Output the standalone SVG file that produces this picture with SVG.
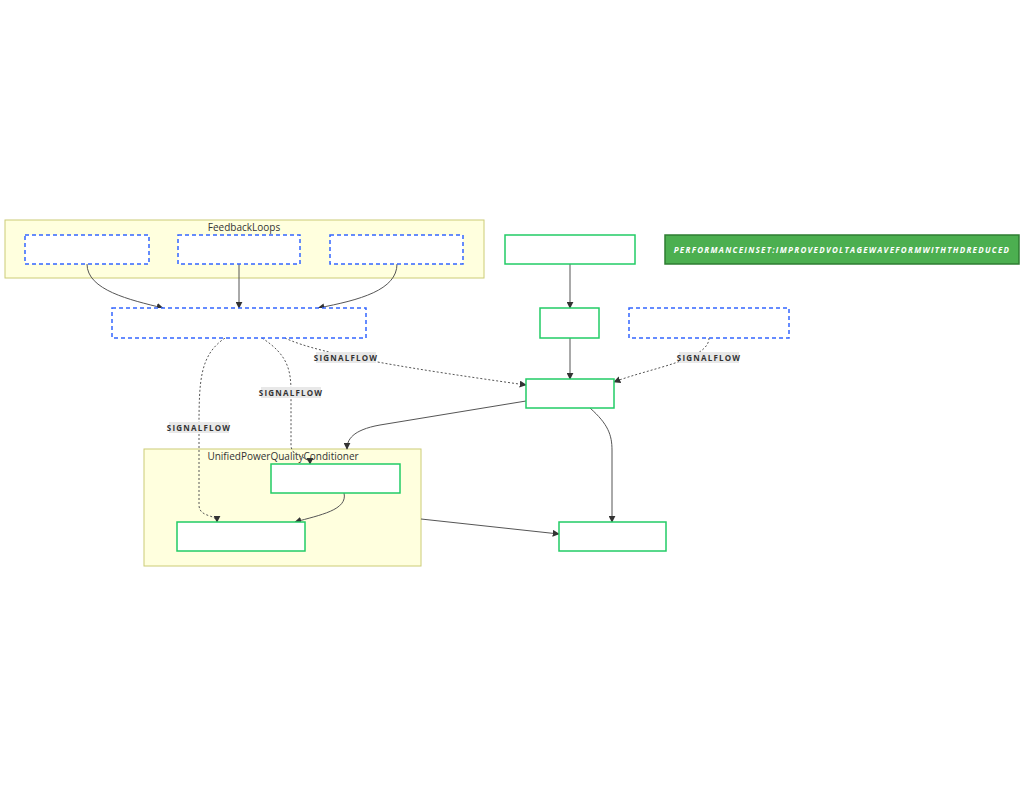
<svg xmlns="http://www.w3.org/2000/svg" width="1024" height="787" viewBox="0 0 1024 787">
<style>
.cl{fill:#ffffde;stroke:#cccc77;stroke-width:1}
.ct{font-family:"Open Sans","Liberation Sans",sans-serif;font-size:10px;fill:#333;text-anchor:middle}
.dn{fill:#fff;stroke:#3366ff;stroke-width:1.5;stroke-dasharray:4 3}
.gn{fill:#fff;stroke:#22cc66;stroke-width:1.5}
.nt{font-family:"Open Sans","Liberation Sans",sans-serif;font-size:9px;fill:#fff;text-anchor:middle;letter-spacing:1.5px}
.e{fill:none;stroke:#555;stroke-width:1}
.d{fill:none;stroke:#555;stroke-width:1;stroke-dasharray:2 2}
.lb{fill:#e8e8e8}
.lt{font-family:"Open Sans","Liberation Sans",sans-serif;font-size:8px;font-weight:bold;fill:#333;text-anchor:middle;letter-spacing:1.2px}
</style>
<defs><marker id="a" viewBox="0 0 10 10" refX="9" refY="5" markerWidth="7" markerHeight="7" orient="auto"><path d="M0,0L10,5L0,10z" fill="#333"/></marker></defs>
<rect width="1024" height="787" fill="#fff"/>
<g id="FeedbackLoops"><rect class="cl" x="5" y="220" width="479" height="58"/><text class="ct" x="244" y="231">FeedbackLoops</text></g>
<g id="UPQC"><rect class="cl" x="144" y="449" width="277" height="117"/><text class="ct" x="283" y="460">UnifiedPowerQualityConditioner</text></g>
<g id="edges">
<path class="e" d="M87,264 C87,290 130,300 163,308" marker-end="url(#a)"/>
<path class="e" d="M239,264 L239,308" marker-end="url(#a)"/>
<path class="e" d="M397,264 C397,290 360,300 318,308" marker-end="url(#a)"/>
<path class="e" d="M570,264 L570,308" marker-end="url(#a)"/>
<path class="e" d="M570,338 L570,379" marker-end="url(#a)"/>
<path class="d" d="M285,338 C320,355 420,370 526,385" marker-end="url(#a)"/>
<path class="d" d="M709,338 C709,360 650,368 614,382" marker-end="url(#a)"/>
<path class="d" d="M262,338 C288,355 291,370 291,393 L291,445 C291,458 310,456 310,464" marker-end="url(#a)"/>
<path class="d" d="M225,338 C200,355 199,380 199,428 L199,505 C199,518 217,514 217,522" marker-end="url(#a)"/>
<path class="e" d="M526,401 L380,425 C352,430 347,440 347,449" marker-end="url(#a)"/>
<path class="e" d="M590,408 C608,424 612,435 612,450 L612,522" marker-end="url(#a)"/>
<path class="e" d="M344,493 C348,510 320,515 295,522" marker-end="url(#a)"/>
<path class="e" d="M421,519 L559,534" marker-end="url(#a)"/>
<rect class="lb" x="316" y="352" width="60" height="11"/><text class="lt" x="346" y="361">SIGNALFLOW</text>
<rect class="lb" x="679" y="352" width="60" height="11"/><text class="lt" x="709" y="361">SIGNALFLOW</text>
<rect class="lb" x="261" y="387" width="60" height="11"/><text class="lt" x="291" y="396">SIGNALFLOW</text>
<rect class="lb" x="169" y="422" width="60" height="11"/><text class="lt" x="199" y="431">SIGNALFLOW</text>
</g>
<g id="CurrentFeedback"><rect class="dn" x="25" y="235" width="124" height="29"/><text class="nt" x="87" y="253">CURRENTFEEDBACK</text></g>
<g id="VoltageFeedback"><rect class="dn" x="178" y="235" width="122" height="29"/><text class="nt" x="239" y="253">VOLTAGEFEEDBACK</text></g>
<g id="HarmonicDetection"><rect class="dn" x="330" y="235" width="133" height="29"/><text class="nt" x="397" y="253">HARMONICDETECTION</text></g>
<g id="Controller"><rect class="dn" x="112" y="308" width="254" height="30"/></g>
<g id="Source"><rect class="gn" x="505" y="235" width="130" height="29"/></g>
<g id="Mid"><rect class="gn" x="540" y="308" width="59" height="30"/></g>
<g id="RightDashed"><rect class="dn" x="629" y="308" width="160" height="30"/></g>
<g id="Hub"><rect class="gn" x="526" y="379" width="88" height="29"/></g>
<g id="Performance"><rect x="665" y="235" width="354" height="29" fill="#4caf50" stroke="#2e7d32" stroke-width="1.5"/><text x="842" y="253" font-family="'Open Sans','Liberation Sans',sans-serif" font-size="8px" font-weight="bold" font-style="italic" fill="#fff" text-anchor="middle" letter-spacing="1.3">PERFORMANCEINSET:IMPROVEDVOLTAGEWAVEFORMWITHTHDREDUCED</text></g>
<g id="SeriesActiveFilter"><rect class="gn" x="271" y="464" width="129" height="29"/><text class="nt" x="335" y="482">SERIESACTIVEFILTER</text></g>
<g id="ShuntActiveFilter"><rect class="gn" x="177" y="522" width="128" height="29"/><text class="nt" x="241" y="540">SHUNTACTIVEFILTER</text></g>
<g id="Load"><rect class="gn" x="559" y="522" width="107" height="29"/></g>
</svg>
